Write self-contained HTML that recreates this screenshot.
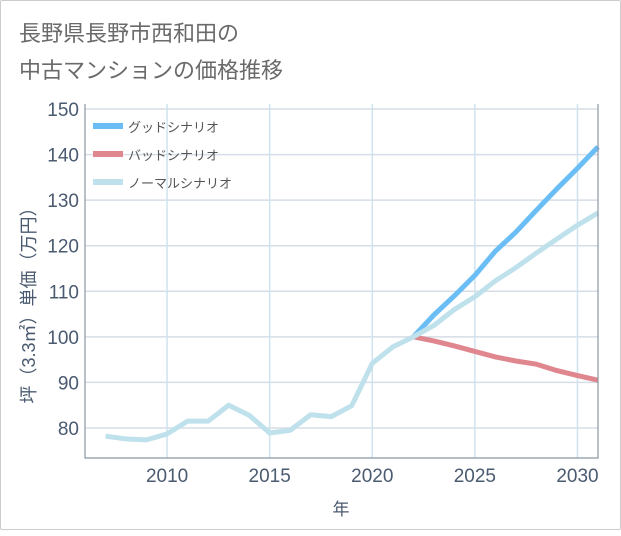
<!DOCTYPE html>
<html><head><meta charset="utf-8"><style>
body{margin:0;background:#fff;}
#wrap{position:relative;width:621px;height:530px;box-sizing:border-box;border:1px solid #ccc;border-radius:2px;}
text{font-family:"Liberation Sans","Noto Sans CJK JP",sans-serif;}
</style></head><body>
<div id="wrap">
<svg id="chart" width="621" height="530">
<text x="18" y="40" font-size="22" fill="#6a6a6a">長野県長野市西和田の</text>
<text x="18" y="77" font-size="22" fill="#6a6a6a">中古マンションの価格推移</text>
<g id="grid"></g><g id="series"></g><g id="axes"></g>
</svg>
</div>
<script>
const years=[2007,2008,2009,2010,2011,2012,2013,2014,2015,2016,2017,2018,2019,2020,2021,2022,2023,2024,2025,2026,2027,2028,2029,2030,2031];
const normal=[78.2,77.6,77.4,78.7,81.5,81.5,85,82.8,78.9,79.5,82.9,82.5,84.9,94.2,97.8,100,102.5,106,108.8,112.3,115.2,118.4,121.5,124.5,127.2];
const goodYears=[2022,2023,2024,2025,2026,2027,2028,2029,2030,2031];
const good=[100,104.8,109,113.5,118.8,123,127.8,132.5,137,141.7];
const bad=[100,99.1,98,96.8,95.6,94.7,94,92.6,91.5,90.5];
const yTicks=[80,90,100,110,120,130,140,150];
const xTicks=[2010,2015,2020,2025,2030];
const L=84,R=597,T=103,B=457;
const x=v=>L+(v-2006)*(R-L)/25;
const y=v=>427-(v-80)*4.557;
const NS='http://www.w3.org/2000/svg';
function mk(tag,attrs,parent){const e=document.createElementNS(NS,tag);for(const k in attrs)e.setAttribute(k,attrs[k]);parent.appendChild(e);return e;}
const grid=document.getElementById('grid'),axes=document.getElementById('axes'),ser=document.getElementById('series');
yTicks.forEach(t=>{
 const l=mk('line',{x1:L,x2:R,y1:y(t),y2:y(t),stroke:'#d5dde6','stroke-width':1.5},grid);
 
 
 const tx=mk('text',{x:78,y:y(t)+7,'text-anchor':'end','font-size':19,fill:'#4a5a70'},axes);
 tx.textContent=t;
 
 
});
xTicks.forEach(t=>{
 const l=mk('line',{x1:x(t),x2:x(t),y1:T,y2:B,stroke:'#cfe3ee','stroke-width':1.5},grid);
 
 
 const tx=mk('text',{x:x(t),y:481,'text-anchor':'middle','font-size':19,fill:'#4a5a70'},axes);
 tx.textContent=t;
 
 
});
const frame=mk('path',{d:`M${L},${T}V${B}H${R}V${T}`,fill:'none',stroke:'#8a96a3','stroke-width':1.2},axes);


function line(xs,vs,color,name){
 const p=mk('polyline',{points:xs.map((yr,i)=>x(yr)+','+y(vs[i])).join(' '),fill:'none',stroke:color,'stroke-width':5,'stroke-linejoin':'round'},ser);
 
 
}
line(goodYears,bad,'#e0868e','bad-scenario-line');
line(goodYears,good,'#6bbef5','good-scenario-line');
line(years,normal,'#bfe1ec','normal-scenario-line');
const leg=[['グッドシナリオ','#6bbef5'],['バッドシナリオ','#e0868e'],['ノーマルシナリオ','#bfe1ec']];
leg.forEach((d,i)=>{
 const g=mk('g',{},axes);
 
 
 mk('rect',{x:92,y:122+i*28,width:30,height:6,fill:d[1]},g);
 const t=mk('text',{x:127,y:131+i*28,'font-size':13,fill:'#555'},g);
 t.textContent=d[0];
});
const yt=mk('text',{transform:'translate(34,300) rotate(-90)','text-anchor':'middle','font-size':18,fill:'#4a5a70'},axes);
yt.textContent='坪（3.3㎡）単価（万円）';


const xt=mk('text',{x:340,y:514,'text-anchor':'middle','font-size':17,fill:'#4a5a70'},axes);
xt.textContent='年';


</script>
</body></html>
